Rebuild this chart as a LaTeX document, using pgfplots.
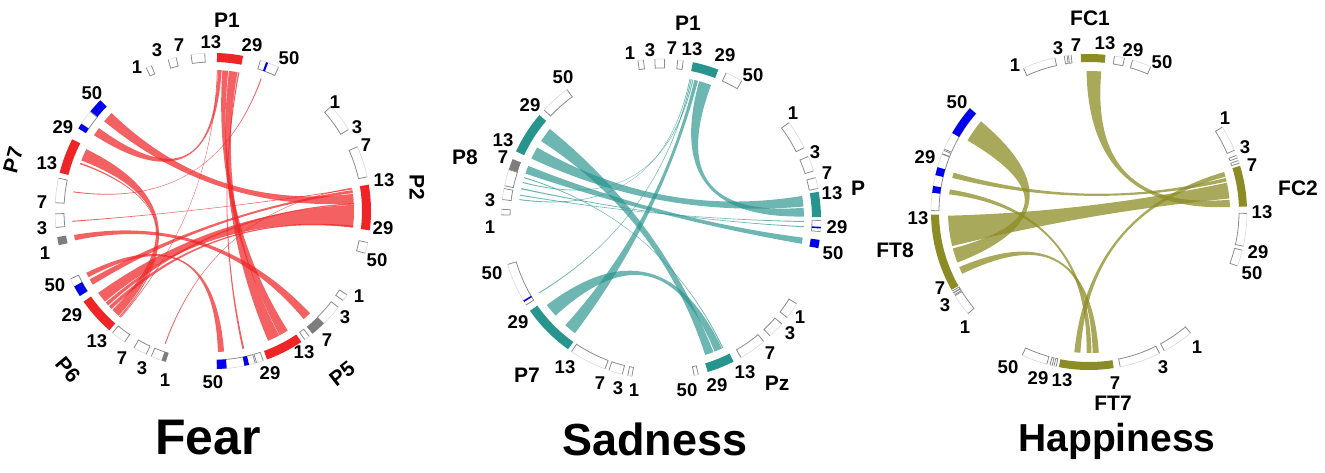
\documentclass[border=0pt]{standalone}
\usepackage{pgfplots}
\pgfplotsset{compat=1.18}
\usepackage{fontspec}
\setmainfont{Liberation Sans}
\definecolor{fred}{RGB}{238,36,38}
\definecolor{fblue}{RGB}{0,0,235}
\definecolor{fgray}{RGB}{125,125,125}
\definecolor{steal}{RGB}{40,148,142}
\definecolor{hol}{RGB}{140,140,38}
\newcommand\pc[2]{(axis cs:{(#2)*cos(#1)},{(#2)*sin(#1)})}
\newcommand\blk[3]{\fill[#3] \pc{#1}{\ri} arc[start angle=#1,end angle=#2,radius=\ri pt] -- \pc{#2}{\ro} arc[start angle=#2,end angle=#1,radius=\ro pt] -- cycle;}
\newcommand\brk[2]{\fill[white] \pc{#1}{\ri} arc[start angle=#1,end angle=#2,radius=\ri pt] -- \pc{#2}{\ro} arc[start angle=#2,end angle=#1,radius=\ro pt] -- cycle;
\draw[black!45,line width=0.8pt] \pc{#1}{\ro} -- \pc{#1}{\ri} arc[start angle=#1,end angle=#2,radius=\ri pt] -- \pc{#2}{\ro};
\draw[black!15,line width=0.6pt] \pc{#1}{\ro} arc[start angle=#1,end angle=#2,radius=\ro pt];}
\newcommand\rib[5]{\fill[#5] \pc{#1}{\rr} arc[start angle=#1,end angle=#2,radius=\rr pt] .. controls \pc{#2}{\rr/3} and \pc{#3}{\rr/3} .. \pc{#3}{\rr} arc[start angle=#3,end angle=#4,radius=\rr pt] .. controls \pc{#4}{\rr/3} and \pc{#1}{\rr/3} .. \pc{#1}{\rr} -- cycle;}
\newcommand\lab[4][0]{\node[font=\bfseries\fontsize{18.5}{18.5}\selectfont,rotate=#1,inner sep=0pt] at (axis cs:{#2-\cx},{\cy-#3}) {#4};}
\newcommand\glab[4][0]{\node[font=\bfseries\fontsize{21}{21}\selectfont,rotate=#1,inner sep=0pt] at (axis cs:{#2-\cx},{\cy-#3}) {#4};}
\tikzset{rf/.style={fill=fred,fill opacity=0.72},
rt/.style={fill=steal,fill opacity=0.68},
rh/.style={fill=hol,fill opacity=0.75}}
\pgfplotsset{chord/.style={x=1pt,y=1pt,xmin=-200,xmax=200,ymin=-200,ymax=200,hide axis,clip=false,anchor=center}}
\begin{document}
\begin{tikzpicture}
\useasboundingbox (0,0) rectangle (1325pt,472pt);
% ---------------- Fear ----------------
\def\cx{213}\def\cy{211}\def\ri{149}\def\ro{158}\def\rr{141}
\begin{axis}[chord,at={(213pt,261pt)}]
\rib{136}{140.5}{3}{7}{rf}
\rib{144}{147.5}{86.5}{88}{rf}
\rib{154}{159}{224.5}{228}{rf}
\rib{160}{160.6}{228.3}{228.8}{rf}
\rib{172}{172.4}{69.8}{70.2}{rf}
\rib{184}{184.4}{8.8}{9.2}{rf}
\rib{189.8}{192}{-50}{-46.5}{rf}
\rib{209}{211.5}{7.3}{8.5}{rf}
\rib{215.5}{220}{-6.5}{2.5}{rf}
\rib{220.5}{222}{2.6}{3.2}{rf}
\rib{222.5}{224}{-6.8}{-6}{rf}
\rib{250}{250.4}{9.2}{9.5}{rf}
\rib{80}{83.5}{-67}{-62}{rf}
\rib{83.8}{86.2}{-61.8}{-58}{rf}
\rib{88.1}{88.4}{228.9}{229.2}{rf}
\rib{-88}{-85.5}{206}{208}{rf}
\rib{-78}{-77.2}{79.2}{79.7}{rf}
% ring P1
\brk{113}{115}\brk{103.5}{106.5}\brk{93}{98}\blk{79}{88.5}{fred}\brk{65.5}{72.5}\blk{69.6}{70.4}{fblue}
% P2
\brk{31}{41.5}\brk{12.5}{24}\blk{-7}{9.6}{fred}\brk{-15.5}{-11.5}
% P5
\brk{-34.5}{-32}\brk{-45.5}{-37.5}\blk{-51}{-45.5}{fgray}\brk{-54.5}{-52.5}\blk{-70}{-56}{fred}\brk{-74}{-71.5}\brk{-88.5}{-74.5}\blk{-88.5}{-85}{fblue}\blk{-78.5}{-76.8}{fblue}
% P6
\brk{205.5}{212.5}\blk{208.5}{212.5}{fblue}\blk{215}{229}{fred}\brk{230.5}{236}\brk{240}{245}\brk{247}{252.5}\blk{251}{252.5}{fgray}
% P7
\blk{135.5}{141}{fblue}\brk{141}{146.5}\blk{146.5}{148.5}{fblue}\blk{153}{166}{fred}\brk{168}{177}\brk{181}{186}\blk{189.5}{192.5}{fgray}
% labels
\glab{227}{20}{P1}\lab{137}{67}{1}\lab{157}{50}{3}\lab{179}{45}{7}\lab{211}{42}{13}\lab{252}{45}{29}\lab{289}{58}{50}
\lab{335}{102}{1}\lab{357}{127}{3}\lab{366}{145}{7}\lab{384}{180}{13}\glab[-90]{417}{187}{P2}\lab{383}{228}{29}\lab{377}{260}{50}
\lab{359}{296}{1}\lab{345}{317}{3}\lab{327}{340}{7}\lab{304}{352}{13}\glab[38]{342}{374}{P5}\lab{270}{373}{29}\lab{213}{382}{50}
\lab{55}{285}{50}\lab{72}{315}{29}\lab{97}{341}{13}\glab[-50]{68}{370}{P6}\lab{122}{358}{7}\lab{142}{368}{3}\lab{165}{380}{1}
\lab{92}{93}{50}\lab{63}{127}{29}\lab{47}{163}{13}\glab[75]{13}{160}{P7}\lab{42}{202}{7}\lab{42}{228}{3}\lab{45}{253}{1}
\end{axis}
% ---------------- Sadness ----------------
\def\cx{661}\def\cy{219}\def\ri{151}\def\ro{160}\def\rr{143}
\begin{axis}[chord,at={(661pt,253pt)}]
\rib{69.5}{74.5}{1}{4.5}{rt}
\rib{150}{155}{5}{9.3}{rt}
\rib{75}{76.5}{228}{233}{rt}
\rib{76.9}{77.3}{165}{165.4}{rt}
\rib{77.6}{78}{211}{211.4}{rt}
\rib{78.2}{78.5}{172}{172.4}{rt}
\rib{141}{147}{-72}{-68.5}{rt}
\rib{158.2}{161.5}{-10}{-7.5}{rt}
\rib{167.5}{168}{-3.3}{-2.9}{rt}
\rib{170.2}{170.6}{-1.2}{-0.8}{rt}
\rib{163}{163.4}{-64.6}{-64.2}{rt}
\rib{217}{222.5}{-68}{-64.8}{rt}
% P1
\brk{96.3}{98.3}\brk{88.7}{92.2}\brk{82}{84}\blk{69}{78.5}{steal}\brk{59.7}{66}
% P
\brk{26.5}{37}\brk{17.5}{23}\brk{11}{15}\blk{0.7}{9.8}{steal}\brk{-4.5}{-0.5}\blk{-3.4}{-2.8}{fblue}\blk{-10.5}{-7.5}{fblue}
% Pz
\brk{-38}{-32}\brk{-47}{-41}\brk{-60}{-50}\blk{-73}{-63}{steal}\brk{-78}{-76.5}
% P7
\brk{196.5}{212.5}\blk{210.6}{211.2}{fblue}\blk{215}{234.5}{steal}\brk{236}{249.5}\brk{251}{256}\brk{258}{259.5}
% P8
\brk{126}{137}\blk{139.5}{155}{steal}\blk{158}{162}{fgray}\brk{162}{168}\brk{169}{173}\brk{176.5}{178.5}
\glab{688}{23}{P1}\lab{630}{53}{1}\lab{650}{50}{3}\lab{672}{48}{7}\lab{692}{49}{13}\lab{725}{55}{29}\lab{753}{75}{50}
\lab{793}{113}{1}\lab{815}{152}{3}\lab{827}{173}{7}\lab{832}{193}{13}\glab{858}{188}{P}\lab{837}{227}{29}\lab{833}{253}{50}
\lab{800}{317}{1}\lab{790}{333}{3}\lab{770}{353}{7}\lab{745}{372}{13}\lab{717}{385}{29}\lab{687}{390}{50}\glab{777}{383}{Pz}
\lab{492}{273}{50}\lab{518}{322}{29}\lab{565}{367}{13}\glab{527}{375}{P7}\lab{600}{383}{7}\lab{618}{388}{3}\lab{634}{390}{1}
\lab{563}{77}{50}\lab{530}{105}{29}\lab{503}{140}{13}\lab{503}{157}{7}\glab{465}{157}{P8}\lab{490}{200}{3}\lab{490}{227}{1}
\end{axis}
% ---------------- Happiness ----------------
\def\cx{1089}\def\cy{212}\def\ri{150}\def\ro{158}\def\rr{141}
\begin{axis}[chord,at={(1089pt,260pt)}]
\rib{140}{149.5}{195}{201}{rh}
\rib{163.8}{166}{12.5}{14}{rh}
\rib{170.8}{172.8}{-91}{-89}{rh}
\rib{181.5}{194}{5.5}{12}{rh}
\rib{203}{206}{-88.5}{-86}{rh}
\rib{85}{91}{2}{5}{rh}
\rib{14.5}{16.5}{-96}{-93.5}{rh}
% FC1
\brk{102.5}{114.5}\brk{98}{99}\brk{96.5}{97.5}\blk{84}{93}{hol}\brk{77}{80.7}\brk{67}{74}
% FC2
\brk{23}{32.5}\brk{20}{21}\brk{18}{19}\blk{2}{17}{hol}\brk{-12.5}{-0.5}\brk{-20}{-14}
% FT7
\brk{-61.5}{-50}\brk{-78.6}{-63.5}\blk{-101}{-81}{hol}\brk{-102.8}{-102}\brk{-104.3}{-103.5}\brk{-115}{-105.5}
% FT8
\brk{139}{156.5}\blk{139}{150}{fblue}\brk{157}{158.3}\brk{158.5}{179.5}\blk{163.5}{166.5}{fblue}\blk{170.5}{173}{fblue}\blk{181}{209.5}{hol}\brk{210}{210.7}\brk{210.9}{211.6}\brk{212}{220}
\lab{1015}{65}{1}\lab{1058}{48}{3}\lab{1076}{45}{7}\lab{1105}{43}{13}\lab{1133}{50}{29}\lab{1162}{62}{50}\glab{1090}{18}{FC1}
\lab{1225}{118}{1}\lab{1245}{147}{3}\lab{1252}{165}{7}\glab{1298}{188}{FC2}\lab{1262}{212}{13}\lab{1258}{252}{29}\lab{1252}{273}{50}
\lab{1197}{347}{1}\lab{1163}{367}{3}\lab{1115}{383}{7}\glab{1113}{403}{FT7}\lab{1062}{380}{13}\lab{1038}{378}{29}\lab{1008}{367}{50}
\lab{957}{102}{50}\lab{925}{157}{29}\lab{918}{218}{13}\glab{895}{250}{FT8}\lab{940}{288}{7}\lab{945}{305}{3}\lab{965}{327}{1}
\end{axis}
\node[font=\bfseries\fontsize{50}{50}\selectfont] at (208pt,34pt) {Fear};
\node[font=\bfseries\fontsize{45}{45}\selectfont] at (655pt,33pt) {Sadness};
\node[font=\bfseries\fontsize{39}{39}\selectfont] at (1117pt,31pt) {Happiness};
\end{tikzpicture}
\end{document}
